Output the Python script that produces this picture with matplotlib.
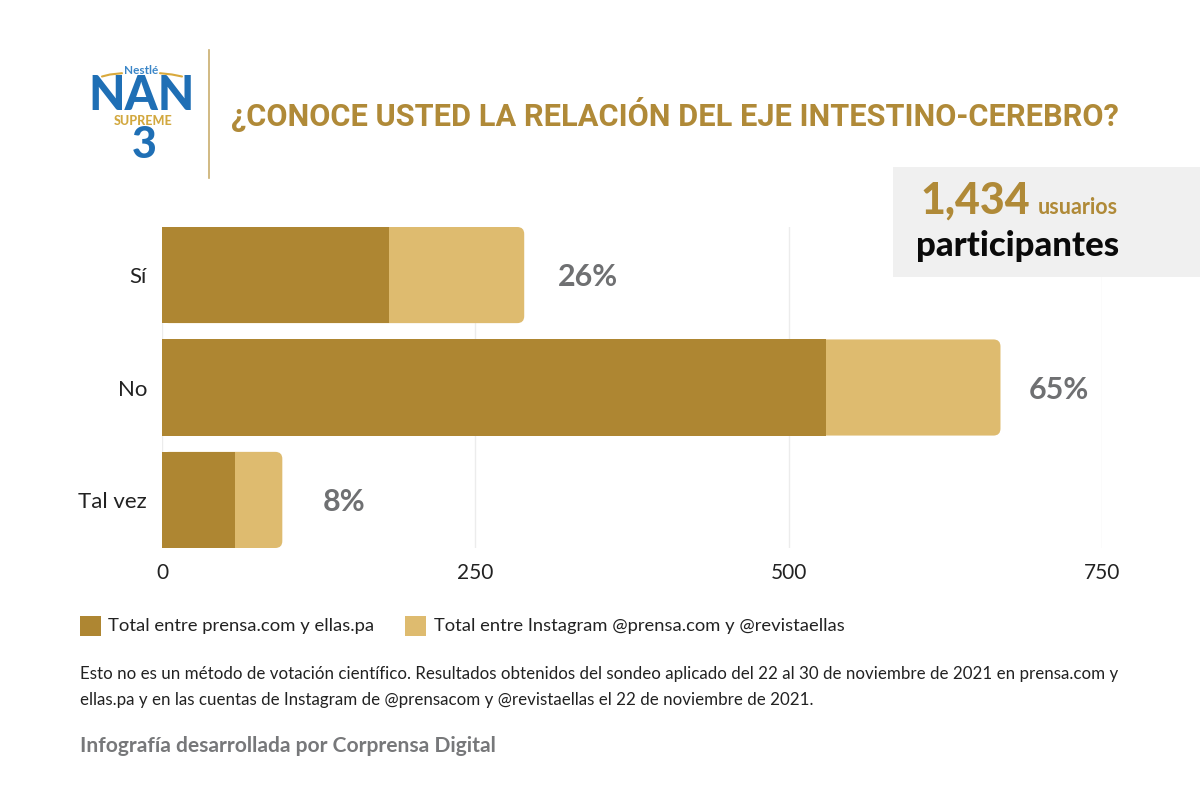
import matplotlib
matplotlib.use("Agg")
import matplotlib.pyplot as plt
from matplotlib.patches import FancyBboxPatch, Rectangle

categories = ["Sí", "No", "Tal vez"]
prensa = [181, 530, 58]
instagram = [108, 139, 38]
percent_labels = ["26%", "65%", "8%"]
ticks = [0, 250, 500, 750]
legend_labels = ["Total entre prensa.com y ellas.pa", "Total entre Instagram @prensa.com y @revistaellas"]
title = "¿CONOCE USTED LA RELACIÓN DEL EJE INTESTINO-CEREBRO?"
note_1 = "Esto no es un método de votación científico. Resultados obtenidos del sondeo aplicado del 22 al 30 de noviembre de 2021 en prensa.com y"
note_2 = "ellas.pa y en las cuentas de Instagram de @prensacom y @revistaellas el 22 de noviembre de 2021."
credit = "Infografía desarrollada por Corprensa Digital"

DARK = "#AE8632"
LIGHT = "#DEBB6F"
GOLD = "#B08A38"
GREY = "#6F7072"
W, H = 1200, 800

plt.rcParams["font.family"] = ["Lato", "DejaVu Sans"]
fig = plt.figure(figsize=(12, 8), dpi=100, facecolor="white")
ax = fig.add_axes([162 / W, 1 - 548 / H, (1102 - 162) / W, (548 - 227) / H])
ypos = [0, 1, 2]
bar_h = 0.855
ax.set_xlim(0, 750)
ax.set_ylim(2 + bar_h / 2, -bar_h / 2)
x_per_px = 750 / 940
y_per_px = (2 + bar_h) / 321
for y, a, b in zip(ypos, prensa, instagram):
    ax.add_patch(FancyBboxPatch((0, y - bar_h / 2), a + b, bar_h,
                                boxstyle=f"round,pad=0,rounding_size={7 * x_per_px}",
                                mutation_aspect=y_per_px / x_per_px,
                                fc=LIGHT, ec="none", zorder=3))
ax.barh(ypos, prensa, height=bar_h, color=DARK, zorder=4)
ax.set_xticks(ticks)
ax.set_xticklabels([str(t) for t in ticks], fontsize=15, color="#222222")
ax.set_yticks(ypos)
ax.set_yticklabels(categories, fontsize=16, color="#222222")
ax.tick_params(axis="x", length=0, pad=10.5)
ax.tick_params(axis="y", length=0, pad=10.8)
ax.grid(axis="x", color="#ECECEC", lw=1, zorder=0)
ax.set_axisbelow(True)
for s in ax.spines.values():
    s.set_visible(False)

offsets = [34, 28, 40]
for y, a, b, lab, off in zip(ypos, prensa, instagram, percent_labels, offsets):
    ax.annotate(lab, (a + b, y), xytext=(off * 0.72, -1.5), textcoords="offset points",
                fontsize=22, fontweight="bold", color=GREY, va="center", ha="left", zorder=5)

ov = fig.add_axes([0, 0, 1, 1], facecolor="none")
ov.set_xlim(0, W)
ov.set_ylim(H, 0)
ov.axis("off")
ov.plot([208.5, 208.5], [50, 178], color="#C9AE6E", lw=1.2)
ov.text(231, 114, title, fontsize=22.15, fontweight="bold", color=GOLD, va="center", ha="left",
        family=["Roboto", "DejaVu Sans"])
# brand logo as text with two small gold arcs
ov.plot([102, 110, 122], [76.5, 74.5, 73.2], color="#D9A93C", lw=1.5, solid_capstyle="round")
ov.plot([160, 172, 182], [73.2, 74.5, 76.5], color="#D9A93C", lw=1.5, solid_capstyle="round")
ov.text(141, 74, "Nestlé", fontsize=8.5, fontweight="bold", color="#3A86C8", ha="center", va="baseline")
ov.text(142, 110, "NAN", fontsize=34, fontweight="black", color="#1F6FB5", ha="center", va="baseline")
ov.text(143, 125, "SUPREME", fontsize=9, fontweight="black", color="#D2A83F", ha="center", va="baseline")
ov.text(144, 158, "3", fontsize=31, fontweight="black", color="#1F6FB5", ha="center", va="baseline")
# participants box
ov.add_patch(Rectangle((893, 167), 307, 110, fc="#F0F0F0", ec="none", zorder=5))
ov.text(920, 201, "1,434", fontsize=31, fontweight="black", color=GOLD, va="center", ha="left", zorder=6)
ov.text(1118, 208, "usuarios", fontsize=15.5, fontweight="bold", color=GOLD, va="center", ha="right", zorder=6)
ov.text(1119, 246, "participantes", fontsize=25, fontweight="black", color="#0A0A0A", va="center", ha="right", zorder=6)
# legend
ov.add_patch(Rectangle((80, 616), 21, 20, fc=DARK, ec="none"))
ov.text(108, 626, legend_labels[0], fontsize=13.3, color="#222222", va="center")
ov.add_patch(Rectangle((405, 616), 21, 20, fc=LIGHT, ec="none"))
ov.text(434, 626, legend_labels[1], fontsize=13.2, color="#222222", va="center")
# notes
ov.text(80, 674, note_1, fontsize=12.17, color="#222222", va="center")
ov.text(80, 700, note_2, fontsize=12.17, color="#222222", va="center")
ov.text(80, 746, credit, fontsize=15.15, fontweight="bold", color="#77787A", va="center")
fig.savefig("out.png", dpi=100)
